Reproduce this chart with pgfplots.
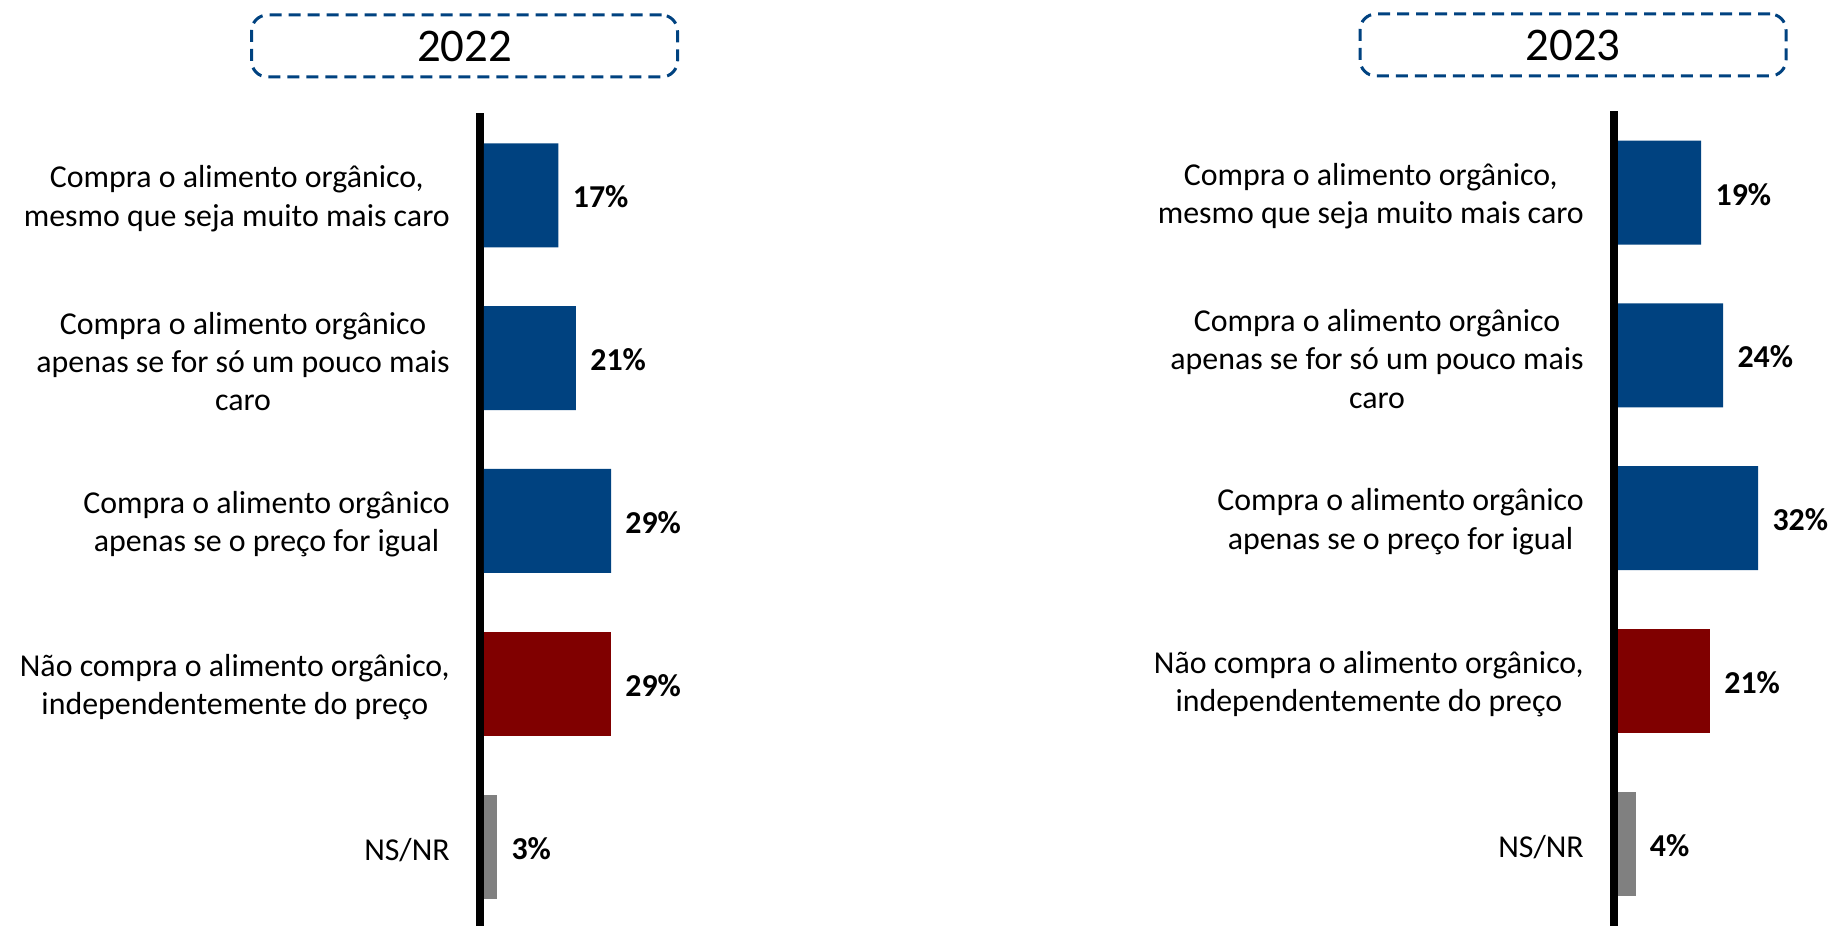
\documentclass[border=0pt]{standalone}
\usepackage{pgfplots}
\pgfplotsset{compat=1.18}
\usepackage{fontspec}
\setmainfont{Carlito}
\definecolor{blueC}{RGB}{0,66,128}
\definecolor{redC}{RGB}{128,0,0}
\definecolor{grayC}{RGB}{128,128,128}
\pgfplotsset{
  panel/.style={
    x=2.19bp, y=81.4bp, y dir=reverse,
    xmin=-0.913, xmax=45,
    axis x line=none,
    axis y line=left,
    y axis line style={-, line width=4bp, black},
    ytick={0,1,2,3,4},
    ytick style={draw=none},
    yticklabel style={align=center, font=\fontsize{16}{19.25}\selectfont, inner sep=0pt, xshift=-10.7bp, yshift=-1.7bp},
    xbar, bar shift=0pt, bar width=52bp,
    clip=false,
    enlargelimits=false,
    point meta=x,
    /pgf/number format/assume math mode=true,
    nodes near coords={\pgfmathprintnumber{\pgfplotspointmeta}\%},
    every node near coord/.append style={anchor=west, font=\fontsize{16}{19}\selectfont\bfseries, inner sep=0pt, xshift=7bp, yshift=-0.8bp, text=black},
    anchor=north west,
  },
  yticklabels={{Compra o alimento orgânico,\\mesmo que seja muito mais caro},{Compra o alimento orgânico\\apenas se for só um pouco mais\\caro},{Compra o alimento orgânico\\apenas se o preço for igual},{Não compra o alimento orgânico,\\independentemente do preço},{NS/NR}},
}
\begin{document}
\begin{tikzpicture}
\useasboundingbox (0,0) rectangle (918bp,463bp);
% 2022
\begin{axis}[panel, at={(240bp,406.5bp)}, ymin=-0.506, ymax=4.485]
\addplot[draw=none, fill=blueC] coordinates {(17,0) (21,1) (29,2)};
\addplot[draw=none, fill=redC] coordinates {(29,3)};
\addplot[draw=none, fill=grayC] coordinates {(3,4)};
\end{axis}
% 2023
\begin{axis}[panel, at={(807bp,407.5bp)}, ymin=-0.501, ymax=4.506]
\addplot[draw=none, fill=blueC] coordinates {(19,0) (24,1) (32,2)};
\addplot[draw=none, fill=redC] coordinates {(21,3)};
\addplot[draw=none, fill=grayC] coordinates {(4,4)};
\end{axis}
\node[draw=blueC, line width=1.5bp, dash pattern=on 6bp off 3.5bp, rounded corners=8bp,
      minimum width=213bp, minimum height=31bp, inner sep=0pt,
      font=\fontsize{23.5}{28}\selectfont] at (232.25bp,440bp) {2022};
\node[draw=blueC, line width=1.5bp, dash pattern=on 6bp off 3.5bp, rounded corners=8bp,
      minimum width=213bp, minimum height=31bp, inner sep=0pt,
      font=\fontsize{23.5}{28}\selectfont] at (786.5bp,440.5bp) {2023};
\end{tikzpicture}
\end{document}
